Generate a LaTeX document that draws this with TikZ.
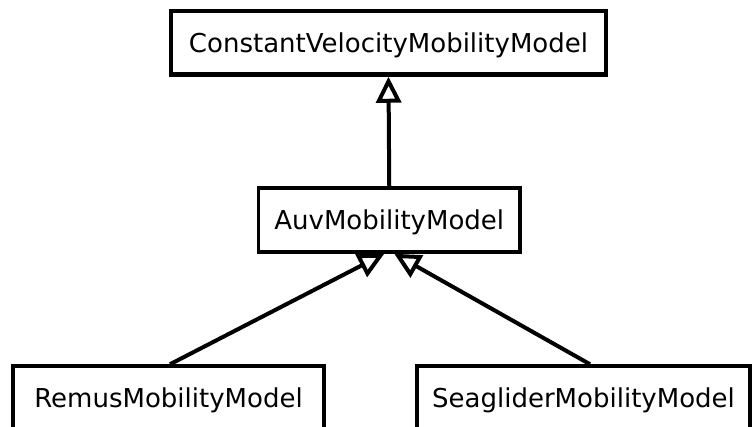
\documentclass[tikz,border=0pt]{standalone}
\usepackage{fontspec}
\setmainfont{DejaVu Sans}
\usetikzlibrary{arrows.meta,calc}
\begin{document}
\begin{tikzpicture}[x=1pt,y=-1pt,
  cls/.style={draw=black,line width=3.5pt,fill=white,inner sep=0pt,
    minimum height=64pt,text height=22pt,text depth=3pt,
    font=\fontsize{26}{30}\selectfont},
  inh/.style={line width=4pt,-{Triangle[open,length=26pt,width=25pt]}}]
\useasboundingbox (0,0) rectangle (754,426);
\node[cls,line width=4.5pt,minimum width=435pt,minimum height=63.5pt] (top) at (388.5,42.75) {ConstantVelocityMobilityModel};
\node[cls,minimum width=261.5pt] (mid) at (389.25,220) {AuvMobilityModel};
\node[cls,minimum width=311pt] (remus) at (168.5,398) {RemusMobilityModel};
\node[cls,minimum width=333pt] (sea) at (583.5,398) {SeagliderMobilityModel};
\draw[inh] (mid.north) -- (top.south);
\draw[inh] ($(remus.north)+(1.5,0)$) -- ($(mid.south)+(-5,0)$);
\draw[inh] ($(sea.north)+(6.5,0)$) -- ($(mid.south)+(5,0)$);
\end{tikzpicture}
\end{document}
